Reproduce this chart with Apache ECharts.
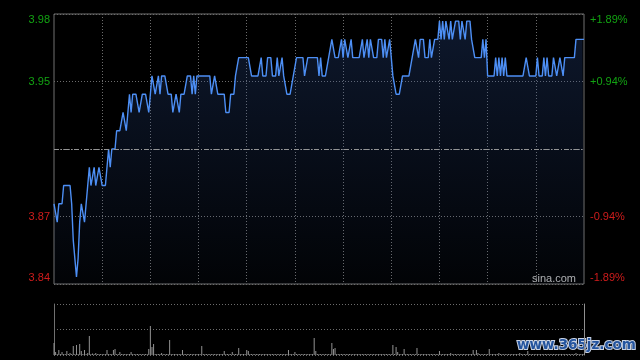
<!DOCTYPE html>
<html><head><meta charset="utf-8">
<script src="https://cdn.jsdelivr.net/npm/echarts@6/dist/echarts.min.js"></script>
<style>html,body{margin:0;padding:0;background:#000;}#c{width:640px;height:360px;}</style>
</head><body><div id="c"></div>
<script>
const prevClose = 3.91;
const axisPct = 1.89;
const leftTickLabels = ['3.84', '3.87', '', '3.95', '3.98'];
const rightTickLabels = ['-1.89%', '-0.94%', '', '+0.94%', '+1.89%'];

const prices = [
3.88,3.88,3.87,3.88,3.88,3.88,3.89,3.89,3.89,3.89,
3.89,3.88,3.86,3.86,3.84,3.85,3.87,3.88,3.88,3.87,
3.87,3.89,3.90,3.89,3.89,3.90,3.89,3.89,3.90,3.90,
3.89,3.89,3.89,3.90,3.91,3.90,3.91,3.91,3.91,3.92,
3.92,3.92,3.92,3.93,3.93,3.92,3.93,3.94,3.93,3.94,
3.94,3.94,3.94,3.93,3.93,3.94,3.94,3.94,3.94,3.93,
3.94,3.95,3.95,3.94,3.94,3.95,3.94,3.95,3.95,3.95,
3.95,3.94,3.94,3.94,3.93,3.93,3.94,3.94,3.93,3.94,
3.94,3.94,3.94,3.95,3.95,3.95,3.94,3.95,3.94,3.95,
3.95,3.95,3.95,3.95,3.95,3.95,3.95,3.95,3.94,3.94,
3.95,3.95,3.94,3.94,3.94,3.94,3.94,3.93,3.93,3.93,
3.94,3.94,3.94,3.95,3.95,3.96,3.96,3.96,3.96,3.96,
3.96,3.96,3.96,3.95,3.95,3.95,3.95,3.95,3.95,3.96,
3.95,3.95,3.95,3.96,3.96,3.96,3.95,3.95,3.95,3.96,
3.95,3.95,3.96,3.95,3.95,3.94,3.94,3.94,3.94,3.95,
3.95,3.96,3.96,3.96,3.96,3.96,3.95,3.95,3.96,3.96,
3.96,3.96,3.96,3.96,3.96,3.95,3.96,3.95,3.95,3.95,
3.95,3.96,3.96,3.97,3.97,3.96,3.96,3.96,3.96,3.97,
3.96,3.97,3.97,3.96,3.96,3.97,3.96,3.96,3.96,3.96,
3.96,3.96,3.97,3.96,3.96,3.97,3.96,3.97,3.97,3.96,
3.96,3.96,3.97,3.97,3.97,3.96,3.97,3.96,3.96,3.97,
3.96,3.95,3.95,3.94,3.94,3.94,3.94,3.95,3.95,3.95,
3.95,3.95,3.95,3.96,3.96,3.97,3.97,3.96,3.97,3.97,
3.97,3.96,3.96,3.96,3.97,3.96,3.96,3.97,3.97,3.97,
3.98,3.97,3.98,3.97,3.98,3.98,3.97,3.98,3.97,3.97,
3.98,3.98,3.98,3.97,3.98,3.98,3.97,3.98,3.98,3.98,
3.97,3.97,3.96,3.96,3.96,3.96,3.96,3.97,3.96,3.97,
3.95,3.95,3.95,3.95,3.95,3.96,3.95,3.96,3.95,3.96,
3.95,3.96,3.95,3.95,3.95,3.95,3.95,3.95,3.95,3.95,
3.95,3.95,3.95,3.95,3.96,3.96,3.95,3.95,3.95,3.95,
3.95,3.96,3.95,3.95,3.95,3.96,3.95,3.96,3.95,3.95,
3.95,3.96,3.96,3.95,3.95,3.96,3.96,3.95,3.96,3.96,
3.96,3.96,3.96,3.96,3.96,3.97,3.97,3.97,3.97,3.97,
3.97
];

const volumes = [
12,3,1,5,1,3,1,1,4,1,
2,1,9,1,10,1,11,4,1,5,
1,2,19,1,1.5,1,2,1,1,1,
1,1,1,5,1,1,1,5,6,1,
1,3,1,1,1,1,1,1,3,1,
1,1,1,1,1,1,1,1,1,6,
29,8,11,1,1,1,1,2,1,1,
1,1,15,1,1,1,1,1,1,1,
5,1,1,1,1,1,1,1,1,1,
1,1,9,1,1,1,1,1,1,1,
1,1,1,1,1,1,4,1,1,1,
1,3,1,1,1,7,1,1,1,1,
5,4,1,1,1,1,1,1,1,1,
1,1,1,1,1,1,1,1,1,1,
1,1,1,1,1,1,5,1,1,1,
3,1,1,1,1,1,1,1,1,1,
1,1,17,4,1,1,1,1,1,1,
1,1,1,12,6,7,1,1,1,1,
1,1,1,1,1,1,1,1,1,1,
1,1,1,1,1,1,1,1,1,1,
1,1,1,1,1,1,1,1,1,1,
1,10,1,8,3,1,1,1,6,1,
1,1,1,1,1,1,7,1,1,1,
1,1,1,1,1,1,1,1,1,1,
4,1,1,1,1,1,1,2,1,1,
1,1,1,1,1,1,1,1,1,1,
1,5,1,5,2,1,1,1,1,1,
1,6,1,1,1,1,1,2,1,1,
1,1,1,1,1,1,1,1,1,1,
2,1,1,1,1,4,1,1,1,1,
1,1,1,1,1,1,1,1,1,1,
1,1,1,1,1,1,1,1,1,1,
1,1,1,1,1,2,1,1,1,1,
1
];

// time categories: 9:30-12:00, 13:01-16:00
const categories = [];
function pad(n){return (n<10?'0':'')+n;}
for (let m = 9*60+30; m <= 12*60; m++) categories.push(pad(Math.floor(m/60))+':'+pad(m%60));
for (let m = 13*60+1; m <= 16*60; m++) categories.push(pad(Math.floor(m/60))+':'+pad(m%60));

const pctData = prices.map(p => (p - prevClose) / prevClose * 100);

const GREEN = '#12a312', RED = '#d01c1c';
function idxOf(v){ return Math.round((v + axisPct) / (axisPct/2)); }
function lab(list){
  return function(v){
    const i = idxOf(v); const s = list[i];
    if (!s) return '';
    const cls = i===4 ? 'gt' : i===3 ? 'g' : i===1 ? 'r' : 'rb';
    return '{' + cls + '|' + s + '}';
  };
}
const rich = {
  g: {color: GREEN, fontSize: 11, fontFamily: 'Liberation Sans, Arial'},
  gt: {color: GREEN, fontSize: 11, fontFamily: 'Liberation Sans, Arial', padding: [12,0,0,0]},
  r: {color: RED, fontSize: 11, fontFamily: 'Liberation Sans, Arial'},
  rb: {color: RED, fontSize: 11, fontFamily: 'Liberation Sans, Arial', padding: [0,0,12,0]}
};
const dotted = {color: '#6c6c6c', type: [1,2], width: 1};

const chart = echarts.init(document.getElementById('c'), null, {renderer: 'canvas'});
chart.setOption({
  backgroundColor: '#000',
  animation: false,
  grid: [
    {left: 54, top: 14, width: 530, height: 270, show: true, borderColor: '#707070', borderWidth: 1, backgroundColor: 'transparent'},
    {left: 54, top: 304, width: 530, height: 51}
  ],
  xAxis: [
    {type: 'category', gridIndex: 0, data: categories, boundaryGap: false,
     axisLine: {show: false}, axisTick: {show: false}, axisLabel: {show: false},
     splitLine: {show: true, interval: function(i){ return i % 30 === 0 && i > 0 && i < 330; }, lineStyle: dotted}},
    {type: 'category', gridIndex: 1, data: categories, boundaryGap: false,
     axisLine: {show: false}, axisTick: {show: false}, axisLabel: {show: false}, splitLine: {show: false}}
  ],
  yAxis: [
    {type: 'value', gridIndex: 0, position: 'left', min: -axisPct, max: axisPct, interval: axisPct/2,
     axisLine: {show: false}, axisTick: {show: false},
     axisLabel: {margin: 4, formatter: lab(leftTickLabels), rich: rich},
     splitLine: {show: true, lineStyle: dotted}},
    {type: 'value', gridIndex: 0, position: 'right', min: -axisPct, max: axisPct, interval: axisPct/2,
     axisLine: {show: false}, axisTick: {show: false},
     axisLabel: {margin: 6, formatter: lab(rightTickLabels), rich: rich},
     splitLine: {show: false}},
    {type: 'value', gridIndex: 1, position: 'left', min: 0, max: 51, interval: 25.5,
     axisLine: {show: true, lineStyle: {color: '#707070'}}, axisTick: {show: false}, axisLabel: {show: false},
     splitLine: {show: true, lineStyle: dotted}},
    {type: 'value', gridIndex: 1, position: 'right', min: 0, max: 51, interval: 25.5,
     axisLine: {show: true, lineStyle: {color: '#909090'}}, axisTick: {show: false}, axisLabel: {show: false},
     splitLine: {show: false}}
  ],
  series: [
    {type: 'line', xAxisIndex: 0, yAxisIndex: 0, data: pctData, showSymbol: false, symbol: 'none',
     lineStyle: {color: '#4d8ff5', width: 1.4},
     areaStyle: {origin: 'start', color: new echarts.graphic.LinearGradient(0,0,0,1,[
       {offset: 0, color: 'rgba(45,80,150,0.42)'},
       {offset: 1, color: 'rgba(45,80,150,0.06)'}])},
     markLine: {silent: true, symbol: 'none', label: {show: false},
       lineStyle: {color: '#959595', type: [5,2,1,2], width: 1},
       data: [{yAxis: 0}]}},
    {type: 'bar', xAxisIndex: 1, yAxisIndex: 2, data: volumes, barWidth: 1,
     itemStyle: {color: '#929292'}}
  ],
  graphic: [
    {type: 'text', left: 532, top: 273, style: {text: 'sina.com', fill: '#b4b4b4', font: '11px "Liberation Sans", Arial'}},
    {type: 'text', left: 516, top: 337, style: {text: 'www.365jz.com', fill: '#24549e', font: 'bold 13.5px "DejaVu Sans"', stroke: '#c8d2e4', lineWidth: 2}}
  ]
});
</script></body></html>
